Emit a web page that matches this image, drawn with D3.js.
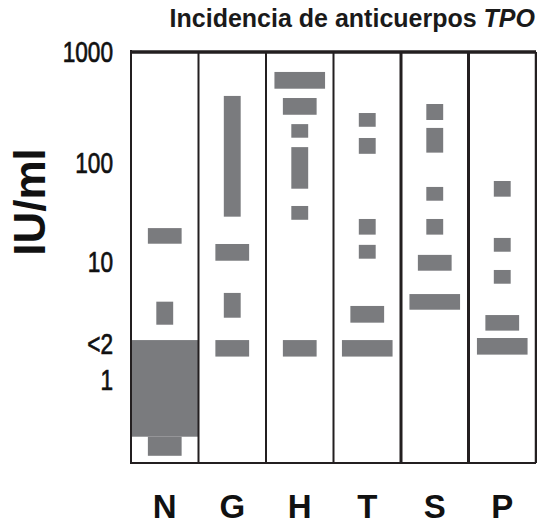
<!DOCTYPE html>
<html>
<head>
<meta charset="utf-8">
<script src="https://cdn.jsdelivr.net/npm/d3@7"></script>
<style>
  body { margin: 0; background: #fff; }
  svg { display: block; }
</style>
</head>
<body>
<div id="chart"></div>
<script>
// groups along the x axis
const groups = ["N", "G", "H", "T", "S", "P"];

// each bar: [low IU/ml, high IU/ml, number of patients (bar width)]
const barsN = [[15.3, 22, 2], [2.92, 4.59, 1], [0.333, 2.16, 4], [0.23, 0.333, 2]];
const barsG = [[28.7, 402, 1], [10.3, 15.2, 2], [3.35, 5.45, 1], [1.57, 2.16, 2]];
const barsH = [[467, 661, 3], [272, 385, 2], [169, 224, 1], [55, 139, 1], [26.7, 36.8, 1], [1.57, 2.16, 2]];
const barsT = [[212, 282, 1], [121, 168, 1], [18.9, 27.2, 1], [10.8, 14.9, 1], [3.04, 4.22, 2], [1.57, 2.16, 3]];
const barsS = [[244, 340, 1], [124, 207, 1], [41.6, 57.3, 1], [18.9, 27.2, 1], [8.43, 11.8, 2], [3.92, 5.33, 3]];
const barsP = [[45.7, 65.8, 1], [12.7, 17.5, 1], [6.53, 8.55, 1], [2.6, 3.53, 2], [1.63, 2.25, 3]];

// y axis ticks (the axis is hand-spaced, so the log scale is piecewise)
const yTicks = [1000, 100, 10, 2, 1];
const yTickLabels = ["1000", "100", "10", "<2", "1"];

const title = "Incidencia de anticuerpos ";
const titleItalic = "TPO";
const yTitle = "IU/ml";

const width = 537;
const height = 525;
const barColor = "#7a7b7e";
const lineColor = "#231f20";

const svg = d3.select("#chart")
  .append("svg")
  .attr("width", width)
  .attr("height", height);

svg.append("rect").attr("width", width).attr("height", height).attr("fill", "#fff");

const xScale = d3.scaleBand()
  .domain(groups)
  .range([131, 536])
  .padding(0);

const yScale = d3.scaleLog()
  .domain([0.2, 1, 2, 10, 100, 1000])
  .range([463, 380, 344, 262, 163, 52]);

const wScale = d3.scaleLinear()
  .domain([0, 4])
  .range([0, xScale.bandwidth()]);

const allBars = [barsN, barsG, barsH, barsT, barsS, barsP];
const barData = [];
allBars.forEach((list, i) => {
  list.forEach((d) => barData.push({ group: groups[i], lo: d[0], hi: d[1], n: d[2] }));
});

//bars
svg.append("g")
  .selectAll("rect")
  .data(barData)
  .enter()
  .append("rect")
  .attr("x", (d) => xScale(d.group) + xScale.bandwidth() / 2 - wScale(d.n) / 2)
  .attr("y", (d) => yScale(d.hi))
  .attr("width", (d) => wScale(d.n))
  .attr("height", (d) => yScale(d.lo) - yScale(d.hi))
  .attr("fill", barColor);

//frame
const x0 = xScale.range()[0];
const x1 = xScale.range()[1];
const yTop = yScale(1000);
const yBottom = yScale(0.2);

const dividers = groups.slice(1).map((g) => xScale(g)).concat([x1]);
const dividerWidths = [2, 2, 2, 3, 3, 2.5];

svg.append("g")
  .selectAll("line")
  .data(dividers)
  .enter()
  .append("line")
  .attr("x1", (d) => d)
  .attr("x2", (d) => d)
  .attr("y1", yTop)
  .attr("y2", yBottom)
  .attr("stroke", lineColor)
  .attr("stroke-width", (d, i) => dividerWidths[i]);

svg.append("line")
  .attr("x1", x0).attr("x2", x0)
  .attr("y1", yTop - 2).attr("y2", yBottom + 1)
  .attr("stroke", lineColor).attr("stroke-width", 2);

svg.append("line")
  .attr("x1", x0).attr("x2", x1)
  .attr("y1", yTop).attr("y2", yTop)
  .attr("stroke", lineColor).attr("stroke-width", 3.5);

svg.append("line")
  .attr("x1", x0).attr("x2", x1)
  .attr("y1", yBottom).attr("y2", yBottom)
  .attr("stroke", lineColor).attr("stroke-width", 2);

//Y axis
const yAxis = d3.axisLeft(yScale)
  .tickValues(yTicks)
  .tickSize(0)
  .tickPadding(18)
  .tickFormat((d, i) => yTickLabels[i]);

const yG = svg.append("g")
  .attr("transform", "translate(" + x0 + ",0)")
  .call(yAxis);
yG.select(".domain").remove();
yG.selectAll("text")
  .attr("fill", "#111")
  .attr("stroke", "#111")
  .attr("stroke-width", 0.7)
  .style("font-family", "'Liberation Sans', Arial, sans-serif")
  .style("font-size", "29px");
// the original digits are a condensed face: squeeze them
yG.selectAll("text").each(function () {
  const len = this.getComputedTextLength();
  d3.select(this)
    .attr("textLength", len * 0.78)
    .attr("lengthAdjust", "spacingAndGlyphs");
});

//X axis
const xAxis = d3.axisBottom(xScale)
  .tickSize(0)
  .tickPadding(32);

const xG = svg.append("g")
  .attr("transform", "translate(0," + yBottom + ")")
  .call(xAxis);
xG.select(".domain").remove();
xG.selectAll("text")
  .attr("fill", "#111")
  .style("font-family", "'Liberation Sans', Arial, sans-serif")
  .style("font-weight", "bold")
  .style("font-size", "33px");

// titles
const t = svg.append("text")
  .attr("x", 535)
  .attr("y", 27)
  .attr("text-anchor", "end")
  .attr("fill", "#1a1a1a")
  .style("font-family", "'Liberation Sans', Arial, sans-serif")
  .style("font-weight", "bold")
  .style("font-size", "25px");
t.append("tspan").text(title);
t.append("tspan").style("font-style", "italic").text(titleItalic);

svg.append("text")
  .attr("transform", "translate(45,202) rotate(-90)")
  .attr("text-anchor", "middle")
  .attr("fill", "#111")
  .style("font-family", "'Liberation Sans', Arial, sans-serif")
  .style("font-weight", "bold")
  .style("font-size", "44px")
  .text(yTitle);
</script>
</body>
</html>
